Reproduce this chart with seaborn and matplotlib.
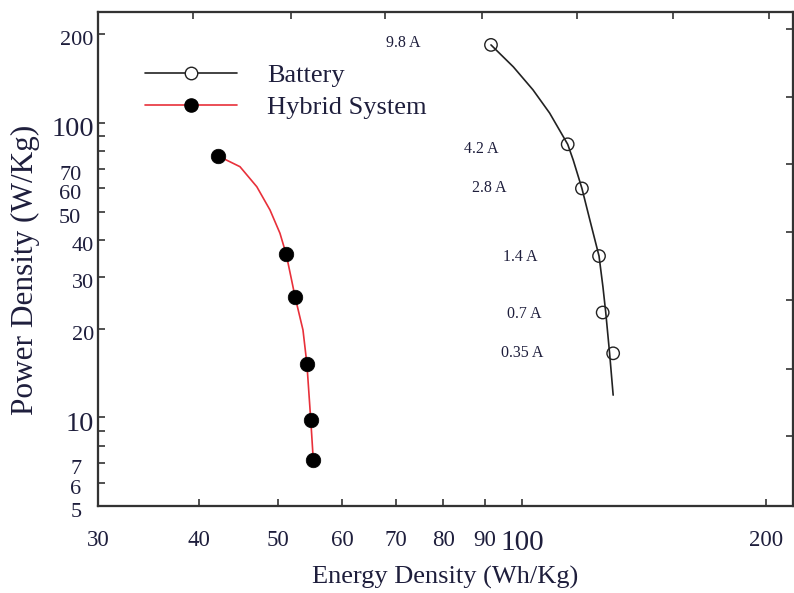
import numpy as np
import pandas as pd
import matplotlib
matplotlib.use("Agg")
import matplotlib.pyplot as plt
import matplotlib.transforms as mtransforms
from matplotlib.lines import Line2D
from matplotlib.ticker import FixedLocator, NullLocator, FixedFormatter
import seaborn as sns

# ---------------- data ----------------
battery_current = ["9.8 A", "4.2 A", "2.8 A", "1.4 A", "0.7 A", "0.35 A"]
battery_energy = [91.6, 113.9, 118.6, 124.5, 125.8, 129.6]
battery_power = [184.0, 84.6, 59.9, 35.3, 22.7, 16.5]

battery_curve_energy = [91.6, 97.6, 103.2, 108.2, 113.9, 115.7, 118.6, 121.3,
                        124.5, 125.9, 126.9, 128.3, 129.6]
battery_curve_power = [184.0, 155.0, 129.5, 108.0, 84.6, 74.8, 59.9, 46.8,
                       35.3, 27.7, 22.7, 16.5, 11.9]

hybrid_energy = [42.2, 51.2, 52.5, 54.3, 54.9, 55.3]
hybrid_power = [77.2, 35.8, 25.7, 15.2, 9.8, 7.14]

hybrid_curve_energy = [42.2, 44.9, 47.1, 48.9, 50.3, 51.2, 52.0, 52.5, 53.7,
                       54.3, 54.9, 55.3]
hybrid_curve_power = [77.2, 71.0, 60.7, 50.6, 42.2, 35.8, 29.2, 25.7, 19.8,
                      15.2, 9.8, 7.14]

x_ticks = [30, 40, 50, 60, 70, 80, 90, 100, 200]
y_ticks = [5, 6, 7, 8, 9, 10, 20, 30, 40, 50, 60, 70, 80, 90, 100, 200]
y_tick_labels = ["5", "6", "7", "", "", "10", "20", "30", "40", "50", "60",
                 "70", "", "", "100", "200"]
legend_labels = ["Battery", "Hybrid System"]
x_label = "Energy Density (Wh/Kg)"
y_label = "Power Density (W/Kg)"

# ---------------- style ----------------
sns.set_style("white")
plt.rcParams["font.family"] = ["Liberation Serif", "DejaVu Serif"]
TXT = "#1e1e3c"
SPINE = "#333333"

fig = plt.figure(figsize=(7.94, 5.93), dpi=100)
ax = fig.add_axes([98 / 794, 87 / 593, 695 / 794, 494 / 593])

bat_curve = pd.DataFrame({"E": battery_curve_energy, "P": battery_curve_power})
hyb_curve = pd.DataFrame({"E": hybrid_curve_energy, "P": hybrid_curve_power})
bat = pd.DataFrame({"E": battery_energy, "P": battery_power, "I": battery_current})
hyb = pd.DataFrame({"E": hybrid_energy, "P": hybrid_power})

sns.lineplot(data=bat_curve, x="E", y="P", sort=False, estimator=None,
             color="#222222", lw=1.2, ax=ax, zorder=2,
             solid_joinstyle="round")
sns.lineplot(data=hyb_curve, x="E", y="P", sort=False, estimator=None,
             color="#e8303a", lw=1.2, ax=ax, zorder=2,
             solid_joinstyle="round")
sns.scatterplot(data=bat, x="E", y="P", s=80, marker="o", facecolor="none",
                edgecolor="#222222", linewidth=1.0, ax=ax, zorder=3)
sns.scatterplot(data=hyb, x="E", y="P", s=110, marker="o", color="black",
                edgecolor="black", linewidth=0.5, ax=ax, zorder=3)

ax.set_xscale("log")
ax.set_yscale("log")
ax.set_xlim(30, 216)
ax.set_ylim(5, 238)

# current annotations
label_offsets_px = [(-70, 2), (-69, -5), (-75, 0), (-62, -1), (-61, -1), (-70, 0)]
for (e, p, lab), (dx, dy) in zip(zip(battery_energy, battery_power, battery_current),
                                 label_offsets_px):
    ax.annotate(lab, xy=(e, p), xycoords="data", xytext=(dx, dy),
                textcoords="offset pixels", ha="right", va="center",
                fontsize=11.5, color=TXT)

# ticks
ax.xaxis.set_major_locator(FixedLocator(x_ticks))
ax.xaxis.set_major_formatter(FixedFormatter([str(v) for v in x_ticks]))
ax.xaxis.set_minor_locator(NullLocator())
ax.yaxis.set_major_locator(FixedLocator(y_ticks))
ax.yaxis.set_major_formatter(FixedFormatter(y_tick_labels))
ax.yaxis.set_minor_locator(NullLocator())
ax.tick_params(axis="both", which="major", direction="in", length=5,
               width=1.2, color=SPINE, labelcolor=TXT)
ax.tick_params(axis="x", pad=17, labelsize=16.5)
ax.tick_params(axis="y", pad=3, labelsize=16)

for spine in ax.spines.values():
    spine.set_color(SPINE)
    spine.set_linewidth(1.5)

ax.set_xlabel(x_label, fontsize=19, color=TXT)
ax.set_ylabel(y_label, fontsize=22.5, color=TXT)
ax.xaxis.set_label_coords(0.5, -0.122)
ax.yaxis.set_label_coords(-0.083, 0.478)

# mirrored evenly spaced ticks on top and right
top = ax.twiny()
top.set_xscale("linear")
top.set_xlim(0, 1)
top.set_xticks([0.137, 0.278, 0.413, 0.553, 0.689, 0.827, 0.965])
top.tick_params(axis="x", direction="in", length=5, width=1.2, color=SPINE,
                labeltop=False)
right = ax.twinx()
right.set_yscale("linear")
right.set_ylim(0, 1)
right.set_yticks([0.142, 0.277, 0.417, 0.555, 0.692, 0.828, 0.966])
right.tick_params(axis="y", direction="in", length=5, width=1.2, color=SPINE,
                  labelright=False)
for a in (top, right):
    for spine in a.spines.values():
        spine.set_color(SPINE)
        spine.set_linewidth(1.5)
    a.grid(False)

# legend
handles = [
    Line2D([0], [0], color="#222222", lw=1.2, marker="o", ms=9,
           mfc="white", mec="#222222", mew=1.0),
    Line2D([0], [0], color="#e8303a", lw=1.2, marker="o", ms=9.5,
           mfc="black", mec="black"),
]
leg_fs = 19
leg = ax.legend(handles, legend_labels, loc="upper left",
                bbox_to_anchor=(47 / 695, 0.895), frameon=False,
                fontsize=leg_fs, handlelength=92 / (leg_fs * 100 / 72),
                handletextpad=30 / (leg_fs * 100 / 72),
                labelspacing=0.31, borderpad=0, borderaxespad=0)
for t in leg.get_texts():
    t.set_color(TXT)

fig.canvas.draw()
# size tweaks for the decade labels
for lab in ax.get_yticklabels():
    if lab.get_text() in ("100", "10"):
        lab.set_fontsize(20.5)
for lab in ax.get_xticklabels():
    if lab.get_text() == "100":
        lab.set_fontsize(21)
yticks = ax.yaxis.get_major_ticks()
for tk, txt in zip(yticks, y_tick_labels):
    if txt in ("70", "60", "50", "7", "6", "5"):
        tk.set_pad(12)
shift = mtransforms.ScaledTranslation(0, -4 / 100, fig.dpi_scale_trans)
for tk in yticks:
    tk.label1.set_transform(tk.label1.get_transform() + shift)

fig.savefig("out.png", dpi=100)
